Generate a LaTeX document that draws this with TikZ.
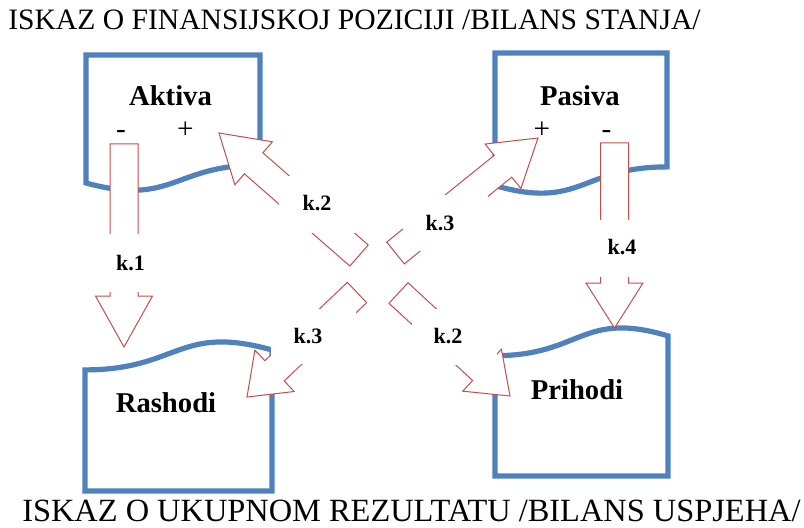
\documentclass[tikz,border=0pt]{standalone}
\usepackage{fontspec}
\setmainfont{Liberation Serif}
\usetikzlibrary{calc}
\definecolor{docblue}{RGB}{79,129,189}
\definecolor{arrred}{RGB}{192,80,77}
% block arrow: #1 tail centre, #2 tip, #3 head length, #4 shaft half width, #5 head half width
\newcommand{\blockarr}[5]{%
  \coordinate (hb) at ($(#2)!#3!(#1)$);
  \filldraw[blockarrow] ($(#1)!#4!90:(#2)$) -- ($(hb)!#4!90:(#2)$) -- ($(hb)!#5!90:(#2)$) -- (#2)
    -- ($(hb)!#5!-90:(#2)$) -- ($(hb)!#4!-90:(#2)$) -- ($(#1)!#4!-90:(#2)$) -- cycle;}
\begin{document}
\begin{tikzpicture}[x=0.75pt,y=-0.75pt,
  docbox/.style={draw=docblue,line width=3.9pt,line join=miter},
  blockarrow/.style={draw=arrred,line width=0.75pt,fill=white,line join=miter},
  title/.style={font=\fontsize{22.2}{26}\selectfont,inner sep=0,anchor=base west},
  boxlab/.style={font=\fontsize{21.5}{24}\selectfont\bfseries,inner sep=0,anchor=base},
  sign/.style={font=\fontsize{22}{24}\selectfont,inner sep=0,anchor=base},
  kbox/.style={fill=white,draw=none,inner sep=0},
  klab/.style={font=\fontsize{16.5}{18}\selectfont\bfseries,inner sep=0,anchor=base}]
\fill[white] (0,0) rectangle (804,528);
\useasboundingbox (0,0) rectangle (804,528);

% titles
\node[title] (top) at (8,30) {ISKAZ O FINANSIJSKOJ POZICIJI /BILANS STANJA/};
\node[title,font=\fontsize{24.3}{28}\selectfont] (bottom) at (22,521) {ISKAZ O UKUPNOM REZULTATU /BILANS USPJEHA/};

% document boxes
\draw[docbox] (86,55) -- (260,55) -- (260,164.9) .. controls (173,164.9) and (173,206.7) .. (86,183) -- cycle;
\draw[docbox] (495,53) -- (667,53) -- (667,166.9) .. controls (581,166.9) and (581,210.2) .. (495,185.6) -- cycle;
\draw[docbox] (85,491) -- (85,369.9) .. controls (178.5,369.9) and (178.5,323.8) .. (272,350) -- (272,491) -- cycle;
\draw[docbox] (495,476) -- (495,355.7) .. controls (581.5,355.7) and (581.5,310) .. (668,335.9) -- (668,476) -- cycle;

% box labels
\node[boxlab] (aktiva) at (170.5,106) {Aktiva};
\node[boxlab] (pasiva) at (580,106) {Pasiva};
\node[boxlab] (rashodi) at (166,412.5) {Rashodi};
\node[boxlab] (prihodi) at (577,399) {Prihodi};
\node[sign] (aminus) at (121,138) {-};
\node[sign] (aplus) at (185.5,138) {+};
\node[sign] (pplus) at (542,138) {+};
\node[sign] (pminus) at (606.5,138) {-};

% arrow end points
\coordinate (t1) at (124,144);   \coordinate (p1) at (124,347);
\coordinate (t4) at (614.5,143); \coordinate (p4) at (614.5,328);
\coordinate (tA) at (359,255.5); \coordinate (pA) at (219,133);
\coordinate (tB) at (395.5,253); \coordinate (pB) at (538,138);
\coordinate (tC) at (357,292.5); \coordinate (pC) at (247,397);
\coordinate (tD) at (398.5,293); \coordinate (pD) at (510,396);

\blockarr{t1}{p1}{38.25pt}{10.5pt}{21.4pt}
\blockarr{t4}{p4}{33.75pt}{10.5pt}{21.4pt}
\blockarr{tA}{pA}{34.5pt}{10.5pt}{21.4pt}
\blockarr{tB}{pB}{33.75pt}{10.5pt}{21.4pt}
\blockarr{tC}{pC}{28.5pt}{10.5pt}{21.4pt}
\blockarr{tD}{pD}{28.5pt}{10.5pt}{21.4pt}

% label backgrounds
\node[kbox,minimum width=45pt,minimum height=43.5pt] (kb1) at (130,263) {};
\node[kbox,minimum width=45pt,minimum height=42.75pt] (kb4) at (622,248.5) {};
\node[kbox,minimum width=63.75pt,minimum height=42.75pt] (kb2a) at (321.5,204.5) {};
\node[kbox,minimum width=63.75pt,minimum height=42pt] (kb3a) at (445.5,223) {};
\node[kbox,minimum width=63.75pt,minimum height=41.25pt] (kb3b) at (313.5,336.5) {};
\node[kbox,minimum width=63.75pt,minimum height=42pt] (kb2b) at (454.5,337) {};

% k labels
\node[klab] (k1) at (130.5,270) {k.1};
\node[klab] (k4) at (622,254) {k.4};
\node[klab] (k2a) at (317,210.5) {k.2};
\node[klab] (k3a) at (440,230) {k.3};
\node[klab] (k3b) at (308,343) {k.3};
\node[klab] (k2b) at (448,343) {k.2};
\end{tikzpicture}
\end{document}
